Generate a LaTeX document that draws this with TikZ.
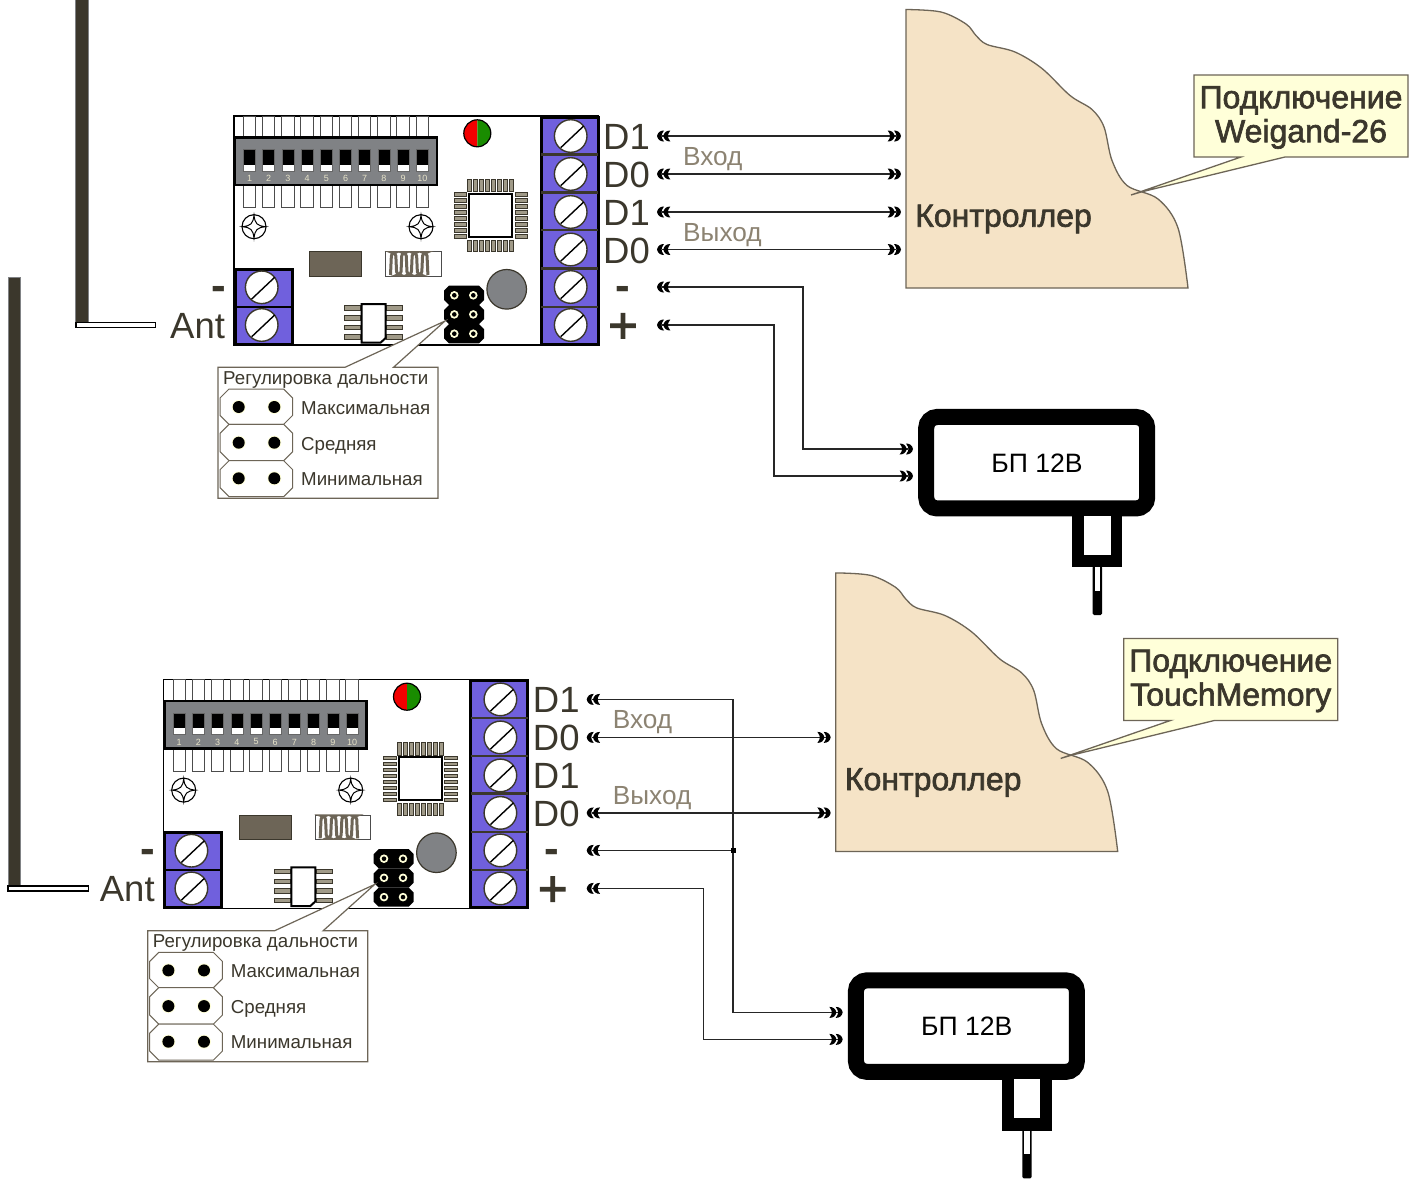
\documentclass[tikz,border=0pt]{standalone}
\usepackage{fontspec}
\usetikzlibrary{arrows.meta}
\setmainfont{Liberation Sans}
\newfontfamily\fakeb[FakeBold=2]{Liberation Sans}
\definecolor{ink}{HTML}{3B372C}
\definecolor{stone}{HTML}{6D6557}
\definecolor{pinc}{HTML}{A09A88}
\definecolor{soft}{HTML}{8C8372}
\definecolor{term}{HTML}{7060DD}
\definecolor{gcase}{HTML}{808285}
\definecolor{tan}{HTML}{F5E3C6}
\definecolor{cream}{HTML}{FFFFD9}
\definecolor{numc}{HTML}{E6E2C8}
\tikzset{
  wire/.style={line width=1.5pt,draw=black!85},
  big/.style={inner sep=0pt,anchor=base west,text=ink,font=\fontsize{36.5}{36.5}\selectfont},
  sign/.style={inner sep=0pt,anchor=center,text=ink,font=\bfseries\fontsize{44}{44}\selectfont},
  smalltxt/.style={inner sep=0pt,anchor=base west,text=ink,font=\fontsize{18.7}{19}\selectfont},
  soft label/.style={inner sep=0pt,anchor=base west,text=soft,font=\fontsize{26.2}{26}\selectfont},
  heavy/.style={inner sep=0pt,text=ink,font=\fakeb\fontsize{32}{32}\selectfont},
  pinbox/.style={fill=white,draw=black!70,line width=.9pt},
  legpin/.style={fill=pinc,draw=ink,line width=.7pt},
  plate/.style={fill=tan,draw=stone,line width=1.3pt},
  callout/.style={fill=cream,draw=stone,line width=1.3pt},
  infobox/.style={fill=white,draw=stone,line width=1.2pt},
}
% one crescent: #1 tip x, #2 y, #3 direction (+1 points left, -1 points right)
\newcommand{\cres}[3]{\fill[black] (#1,#2) .. controls ({#1+#3*.8},{#2-3.5}) and ({#1+#3*3},{#2-5.5}) .. ({#1+#3*7},{#2-5.5}) .. controls ({#1+#3*5.2},{#2-3}) and ({#1+#3*4.6},{#2-1.5}) .. ({#1+#3*4.6},#2) .. controls ({#1+#3*4.6},{#2+1.5}) and ({#1+#3*5.2},{#2+3}) .. ({#1+#3*7},{#2+5.5}) .. controls ({#1+#3*3},{#2+5.5}) and ({#1+#3*.8},{#2+3.5}) .. (#1,#2) -- cycle;}
\newcommand{\chevL}[2]{\cres{#1}{#2}{1}\cres{#1+6.3}{#2}{1}}
\newcommand{\chevR}[2]{\cres{#1}{#2}{-1}\cres{#1-6.3}{#2}{-1}}
\newcommand{\screwhead}[2]{%
  \fill[white,draw=ink,line width=1.4pt] (#1,#2) circle[radius=16.3pt];
  \draw[black,line width=1.4pt] ({#1-10},{#2+11.7}) -- ({#1+13},{#2-10});}
\newcommand{\mount}[2]{%
  \begin{scope}[shift={(#1,#2)}]
  \fill[white,draw=black,line width=1.1pt] (0,0) circle[radius=12pt];
  \draw[black,line width=1pt] (-11.5,0) .. controls (-3,-1) and (-1,-3) .. (0,-11.5) .. controls (1,-3) and (3,-1) .. (11.5,0) .. controls (3,1) and (1,3) .. (0,11.5) .. controls (-1,3) and (-3,1) .. (-11.5,0) -- cycle;
  \end{scope}}
\newcommand{\octa}[6]{\path[#6] ({#1+#5},#2) -- ({#3-#5},#2) -- (#3,{#2+#5}) -- (#3,{#4-#5}) -- ({#3-#5},#4) -- ({#1+#5},#4) -- (#1,{#4-#5}) -- (#1,{#2+#5}) -- cycle;}
\newcommand{\boardbody}[1]{%
  % board
  \fill[white,draw=black,line width=1.5pt] (234,116) rectangle (598,345);
  % DIP pins and switches
  \foreach \i in {0,...,9} {
    \pgfmathsetmacro{\xa}{243.3+19.2*\i}
    \pgfmathsetmacro{\xb}{255.7+19.2*\i}
    \path[pinbox] (\xa,116) rectangle (\xb,138);
    \path[pinbox] (\xa,185) rectangle (\xb,207.7);
  }
  \fill[gcase,draw=black,line width=2.4pt] (235,137.3) rectangle (436.7,185);
  \foreach \i [count=\n from 1] in {0,...,9} {
    \pgfmathsetmacro{\xa}{243.5+19.2*\i}
    \pgfmathsetmacro{\xb}{255.5+19.2*\i}
    \pgfmathsetmacro{\xc}{249.5+19.2*\i}
    \fill[black] (\xa,149.5) rectangle (\xb,165);
    \fill[white] (\xa,165) rectangle (\xb,171);
    \draw[black!60,line width=.5pt] (\xa,149.5) rectangle (\xb,171);
    \node[inner sep=0pt,text=numc,font=\fontsize{9}{9}\selectfont] (#1n\n) at (\xc,178.5) {\n};
  }
  % mounts
  \mount{254}{226.7}
  \mount{421}{226.7}
  % brown block and coil
  \fill[stone,draw=ink,line width=.8pt] (309.3,251.7) rectangle (361.7,276);
  \path[pinbox] (385.3,251.7) rectangle (441,276);
  \draw[stone,line width=3pt,rounded corners=3.4pt] (390.5,275) -- ++(1,-22.5) -- ++(4.2,0) -- ++(1,22.5) -- ++(4.2,0) -- ++(1,-22.5) -- ++(4.2,0) -- ++(1,22.5) -- ++(4.2,0) -- ++(1,-22.5) -- ++(4.2,0) -- ++(1,22.5) -- ++(4.2,0) -- ++(1,-22.5) -- ++(4.2,0) -- ++(1,22.5);
  % left terminal
  \fill[term] (234.3,268.3) rectangle (292.7,345);
  \draw[black,line width=3pt] (235,269.5) rectangle (292,344.5);
  \draw[black,line width=2.4pt] (235,306.7) -- (292,306.7);
  \screwhead{261.7}{287.3}
  \screwhead{261.7}{325}
  % right terminal
  \fill[term] (540,117) rectangle (597.5,344);
  \draw[black,line width=3pt] (541,117) rectangle (598,344);
  \foreach \y in {154.3,192.3,230,268.3,306.7} {\draw[ink,line width=2.4pt] (541,\y) -- (598,\y);}
  \foreach \y in {136,174,212,249.5,287,325} {\screwhead{570.7}{\y}}
  % LED
  \fill[red!95!black] (477.3,119.8) arc[start angle=90,end angle=270,radius=13.5pt] -- cycle;
  \fill[green!50!black!90!yellow] (477.3,119.8) arc[start angle=90,end angle=-90,radius=13.5pt] -- cycle;
  \draw[black,line width=1.2pt] (477.3,133.3) circle[radius=13.5pt];
  % MCU
  \foreach \i in {0,...,7} {
    \pgfmathsetmacro{\a}{467.6+6.02*\i}
    \pgfmathsetmacro{\b}{\a+3.6}
    \path[legpin] (\a,179) rectangle (\b,191.7);
    \path[legpin] (\a,240) rectangle (\b,251.7);
    \pgfmathsetmacro{\c}{192.6+6.02*\i}
    \pgfmathsetmacro{\d}{\c+3.6}
    \path[legpin] (454,\c) rectangle (466.7,\d);
    \path[legpin] (515,\c) rectangle (527.3,\d);
  }
  \fill[white,draw=black,line width=2pt] (469,194) rectangle (512.3,236.7);
  % grey button
  \fill[gcase,draw=ink,line width=1.2pt] (506.7,289.3) circle[radius=19.8pt];
  % SOIC
  \foreach \y in {308,318,327.4,337} {
    \path[legpin] (344.3,{\y-2.3}) rectangle (360.7,{\y+2.3});
    \path[legpin] (386.7,{\y-2.3}) rectangle (402.7,{\y+2.3});
  }
  \fill[white,draw=black,line width=2pt] (361.7,304) -- (385.7,304) -- (385.7,338) -- (380.5,342.7) -- (361.7,342.7) -- cycle;
  % jumper
  \octa{444}{285.7}{484}{305}{5}{fill=black}
  \octa{444}{305}{484}{324.2}{5}{fill=black}
  \octa{444}{324.2}{484}{343.3}{5}{fill=black}
  \foreach \y in {295.3,314.4,333.7} {\foreach \x in {454.3,473.3} {
    \fill[cream] (\x,\y) circle[radius=4.3pt];
    \fill[black] (\x,\y) circle[radius=2.3pt];
  }}
  % info box
  \path[infobox] (218,367.3) -- (345,367.3) -- (445,321) -- (393.5,367.3) -- (438,367.3) -- (438,498.3) -- (218,498.3) -- cycle;
  \node[smalltxt] (#1title) at (223,384) {Регулировка дальности};
  \octa{220}{389}{292.7}{424.3}{9}{fill=white,draw=stone,line width=1pt}
  \octa{220}{424.3}{292.7}{460.7}{9}{fill=white,draw=stone,line width=1pt}
  \octa{220}{460.7}{292.7}{496.7}{9}{fill=white,draw=stone,line width=1pt}
  \foreach \y in {407,442.7,478.3} {\foreach \x in {238.7,274.3} {
    \fill[cream] (\x,\y) circle[radius=7pt];
    \fill[black] (\x,\y) circle[radius=6pt];
  }}
  \node[smalltxt] (#1max) at (301,414) {Максимальная};
  \node[smalltxt] (#1mid) at (301,450) {Средняя};
  \node[smalltxt] (#1min) at (301,485.5) {Минимальная};
  % terminal labels
  \node[big] (#1lA) at (603,149) {D1};
  \node[big] (#1lB) at (603,187) {D0};
  \node[big] (#1lC) at (603,225) {D1};
  \node[big] (#1lD) at (603,263) {D0};
  \node[sign] (#1lE) at (622.5,293) {-};
  \node[sign] (#1lF) at (623,328) {\textnormal{\fakeb\fontsize{51}{51}\selectfont +}};
  \node[sign] (#1lG) at (218.5,293) {-};
  \node[big] (#1ant) at (170,338) {Ant};
  % controller
  \path[plate] plot[smooth,tension=.55] coordinates {(906,9.5) (941,12) (966,24) (976,35.5) (987,44.5) (1015,52) (1042,68.5) (1070,95.5) (1092,109.5) (1104,127) (1112,160.5) (1127,185.5) (1158,199) (1178,228) (1188,288)} -- (906,288) -- cycle;
  \node[heavy,anchor=base west] (#1ctrl) at (915,226.7) {Контроллер};
  % PSU
  \node[draw=black,fill=white,line width=16pt,rounded corners=11pt,minimum width=221pt,minimum height=91.5pt,inner sep=0pt] (#1psu) at (1036.7,462.7) {};
  \node[inner sep=0pt,font=\fontsize{26.6}{26}\selectfont] (#1psut) at (1037,463) {БП 12В};
  \fill[black] (1072.3,516) rectangle (1122.3,567.3);
  \fill[white] (1084,516) rectangle (1110.7,555);
  \fill[black,rounded corners=1.5pt] (1092.7,566) rectangle (1102,615);
  \fill[white] (1094.7,567.3) rectangle (1100,591);
  % connector end points
  \coordinate (#1a) at (662,136);
  \coordinate (#1b) at (662,174);
  \coordinate (#1c) at (662,212);
  \coordinate (#1d) at (662,249.5);
  \coordinate (#1e) at (662,287);
  \coordinate (#1f) at (662,325);
  \coordinate (#1ka) at (896,136);
  \coordinate (#1kb) at (896,174);
  \coordinate (#1kc) at (896,212);
  \coordinate (#1kd) at (896,249.5);
  \coordinate (#1pa) at (908,449);
  \coordinate (#1pb) at (908,476);
}
\begin{document}
\begin{tikzpicture}[x=1pt,y=-1pt]
\useasboundingbox (0,0) rectangle (1420,1178);
\fill[white] (0,0) rectangle (1420,1178);
% antennas
\fill[ink,draw=gcase,line width=.6pt] (75.5,-2) rectangle (88,323);
\fill[white,draw=black,line width=1.4pt] (75.8,322.5) rectangle (155.7,327.5);
\fill[ink,draw=gcase,line width=.6pt] (8,277) rectangle (20.3,886);
\fill[white,draw=black,line width=1.4pt] (8,885.8) rectangle (88.5,890.8);

% upper assembly
\boardbody{u}
\draw[wire] (ua) -- (uka);
\draw[wire] (ub) -- (ukb);
\draw[wire] (uc) -- (ukc);
\draw[wire] (ud) -- (ukd);
\draw[wire] (ue) -| (803,449) -- (upa);
\draw[wire] (uf) -| (774,476) -- (upb);
\foreach \y in {136,174,212,249.5,287,325} {\chevL{657}{\y}}
\foreach \y in {136,174,212,249.5} {\chevR{901}{\y}}
\foreach \y in {449,476} {\chevR{913}{\y}}
\node[soft label] (uvh) at (683,165) {Вход};
\node[soft label] (uvy) at (683,241) {Выход};
\path[callout] (1194,75) -- (1408,75) -- (1408,157) -- (1285,157) -- (1141,192) -- (1131,195) -- (1241,157) -- (1194,157) -- cycle;
\node[heavy,align=center,anchor=center] (ucap) at (1301,117.5) {Подключение\\[2pt]Weigand-26};

% lower assembly
\begin{scope}[shift={(-70.3,563.4)}]
\boardbody{l}
\draw[wire] (la) -| (803.3,449) -- (lpa);
\draw[wire] (lb) -- (lkb);
\draw[wire] (ld) -- (lkd);
\draw[wire] (le) -- (803.3,287);
\fill[black] (800.8,284.5) rectangle (805.8,289.5);
\draw[wire] (lf) -| (774,476) -- (lpb);
\foreach \y in {136,174,249.5,287,325} {\chevL{657}{\y}}
\foreach \y in {174,249.5} {\chevR{901}{\y}}
\foreach \y in {449,476} {\chevR{913}{\y}}
\node[soft label] (lvh) at (683,165) {Вход};
\node[soft label] (lvy) at (683,241) {Выход};
\path[callout] (1194,75) -- (1408,75) -- (1408,157) -- (1285,157) -- (1141,192) -- (1131,195) -- (1241,157) -- (1194,157) -- cycle;
\node[heavy,align=center,anchor=center] (lcap) at (1301,117.5) {Подключение\\[2pt]TouchMemory};
\end{scope}
\end{tikzpicture}
\end{document}
